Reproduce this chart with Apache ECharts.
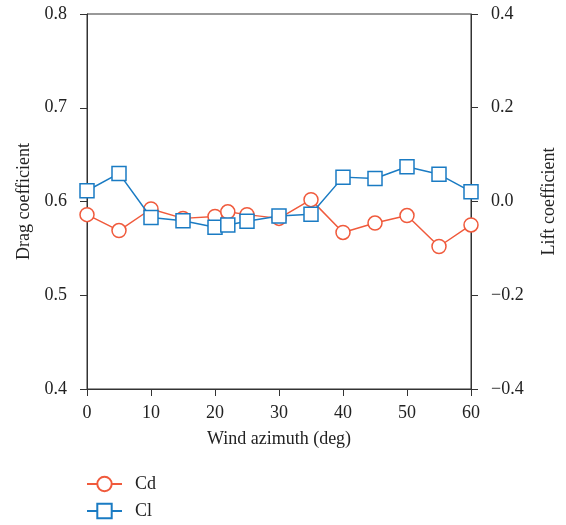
<!DOCTYPE html>
<html>
<head>
<meta charset="utf-8">
<script src="https://cdn.jsdelivr.net/npm/echarts@6/dist/echarts.min.js"></script>
<style>html,body{margin:0;padding:0;background:#fff;}#c{width:566px;height:525px;}</style>
</head>
<body>
<div id="c"></div>
<script>
const azimuth = [0, 5, 10, 15, 20, 22, 25, 30, 35, 40, 45, 50, 55, 60];
const cdValues = [0.586, 0.569, 0.592, 0.582, 0.584, 0.589, 0.586, 0.582, 0.602, 0.567, 0.577, 0.585, 0.552, 0.575];
const clValues = [0.023, 0.060, -0.034, -0.041, -0.055, -0.050, -0.042, -0.031, -0.027, 0.052, 0.049, 0.074, 0.058, 0.021];
const seriesNames = ['Cd', 'Cl'];

const FONT = 'Liberation Serif';
const FS = 18;
const red = '#f05a3c', blue = '#1a7bc3';
const fmt = v => { const s = (Math.abs(v) < 1e-9 ? 0 : v).toFixed(1); return s.replace('-', '\u2212'); };

const legendStyle = (name, top) => ({
  orient: 'vertical', left: 81, top: top, itemWidth: 35, itemHeight: 18,
  textStyle: { fontFamily: FONT, fontSize: FS, color: '#222', padding: [0, 0, 0, 8] },
  data: [name]
});

const chart = echarts.init(document.getElementById('c'));
chart.setOption({
  animation: false,
  textStyle: { fontFamily: FONT },
  grid: { left: 87, right: 94, top: 14, bottom: 136, show: true, borderColor: '#333', borderWidth: 1 },
  legend: [legendStyle(seriesNames[0], 470), legendStyle(seriesNames[1], 497)],
  xAxis: {
    type: 'value', min: 0, max: 60, interval: 10,
    name: 'Wind azimuth (deg)', nameLocation: 'middle', nameGap: 41,
    nameTextStyle: { fontFamily: FONT, fontSize: FS, color: '#222' },
    axisLine: { onZero: false, lineStyle: { color: '#333', width: 1 } },
    axisTick: { inside: false, length: 7, lineStyle: { color: '#333' } },
    axisLabel: { margin: 15, fontFamily: FONT, fontSize: FS, color: '#222' },
    splitLine: { show: false }
  },
  yAxis: [{
    type: 'value', min: 0.4, max: 0.8, interval: 0.1, position: 'left',
    name: 'Drag coefficient', nameLocation: 'middle', nameGap: 46, nameRotate: 90,
    nameTextStyle: { fontFamily: FONT, fontSize: FS, color: '#222' },
    axisLine: { show: true, onZero: false, lineStyle: { color: '#333', width: 1 } },
    axisTick: { show: true, length: 7, lineStyle: { color: '#333' } },
    axisLabel: { margin: 20, fontFamily: FONT, fontSize: FS, color: '#222', formatter: fmt },
    splitLine: { show: false }
  }, {
    type: 'value', min: -0.4, max: 0.4, interval: 0.2, position: 'right',
    name: 'Lift coefficient', nameLocation: 'middle', nameGap: 69, nameRotate: 90,
    nameTextStyle: { fontFamily: FONT, fontSize: FS, color: '#222' },
    axisLine: { show: true, onZero: false, lineStyle: { color: '#333', width: 1 } },
    axisTick: { show: true, length: 7, lineStyle: { color: '#333' } },
    axisLabel: { margin: 20, fontFamily: FONT, fontSize: FS, color: '#222', formatter: fmt },
    splitLine: { show: false }
  }],
  series: [{
    name: seriesNames[0], type: 'line', yAxisIndex: 0,
    data: azimuth.map((a, i) => [a, cdValues[i]]),
    symbol: 'circle', symbolSize: 14,
    lineStyle: { color: red, width: 1.5 },
    itemStyle: { color: '#fff', borderColor: red, borderWidth: 1.5 },
    z: 2
  }, {
    name: seriesNames[1], type: 'line', yAxisIndex: 1,
    data: azimuth.map((a, i) => [a, clValues[i]]),
    symbol: 'rect', symbolSize: 14,
    lineStyle: { color: blue, width: 1.5 },
    itemStyle: { color: '#fff', borderColor: blue, borderWidth: 1.5 },
    z: 3
  }]
});
</script>
</body>
</html>
